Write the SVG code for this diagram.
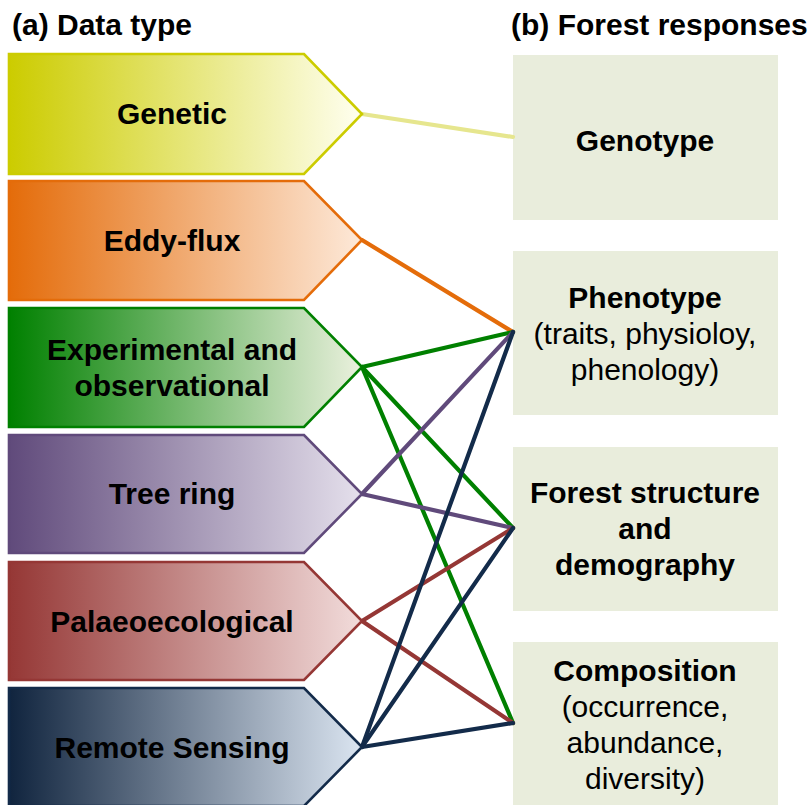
<svg xmlns="http://www.w3.org/2000/svg" width="808" height="805" viewBox="0 0 808 805">
<style>
text{font-family:"Liberation Sans",Arial,sans-serif;font-size:30px;fill:#000;}
.b{font-weight:bold;}
.c{text-anchor:middle;}
.shape{stroke-width:2.6;stroke-linejoin:miter;}
.box{fill:#e9eddc;}
.conn line{stroke-width:4.2;stroke-linecap:round;}
</style>
<defs>
<linearGradient id="gGen" x1="0" x2="1" y1="0" y2="0"><stop offset="0" stop-color="#cccc00"/><stop offset="1" stop-color="#fffff0"/></linearGradient>
<linearGradient id="gEdd" x1="0" x2="1" y1="0" y2="0"><stop offset="0" stop-color="#e46c0a"/><stop offset="1" stop-color="#fde9d9"/></linearGradient>
<linearGradient id="gExp" x1="0" x2="1" y1="0" y2="0"><stop offset="0" stop-color="#008000"/><stop offset="1" stop-color="#ebf1de"/></linearGradient>
<linearGradient id="gTre" x1="0" x2="1" y1="0" y2="0"><stop offset="0" stop-color="#604a7b"/><stop offset="1" stop-color="#e5e0ec"/></linearGradient>
<linearGradient id="gPal" x1="0" x2="1" y1="0" y2="0"><stop offset="0" stop-color="#953735"/><stop offset="1" stop-color="#f2dcdb"/></linearGradient>
<linearGradient id="gRem" x1="0" x2="1" y1="0" y2="0"><stop offset="0" stop-color="#10243e"/><stop offset="1" stop-color="#dbe5f1"/></linearGradient>
</defs>
<rect width="808" height="805" fill="#fff"/>
<text class="b" x="12" y="35">(a) Data type</text>
<text class="b" x="511" y="35">(b) Forest responses</text>

<g id="genotype"><rect class="box" x="513" y="55" width="265" height="165"/><text class="b c" x="645" y="151">Genotype</text></g>
<g id="phenotype"><rect class="box" x="513" y="251" width="265" height="164"/><text class="b c" x="645" y="308">Phenotype</text><text class="c" x="645" y="344">(traits, physioloy,</text><text class="c" x="645" y="380">phenology)</text></g>
<g id="structure"><rect class="box" x="513" y="447" width="265" height="164"/><text class="b c" x="645" y="503">Forest structure</text><text class="b c" x="645" y="539">and</text><text class="b c" x="645" y="575">demography</text></g>
<g id="composition"><rect class="box" x="513" y="642" width="265" height="165"/><text class="b c" x="645" y="681">Composition</text><text class="c" x="645" y="717">(occurrence,</text><text class="c" x="645" y="753">abundance,</text><text class="c" x="645" y="789">diversity)</text></g>

<g id="connectors" class="conn">
<line x1="362" y1="114" x2="513" y2="137" stroke="#e6e68e"/>
<line x1="362" y1="240" x2="513" y2="332" stroke="#e46c0a"/>
<line x1="362" y1="367" x2="513" y2="332" stroke="#008000"/>
<line x1="362" y1="367" x2="513" y2="528" stroke="#008000"/>
<line x1="362" y1="367" x2="513" y2="723" stroke="#008000"/>
<line x1="362" y1="494" x2="513" y2="332" stroke="#604a7b"/>
<line x1="362" y1="494" x2="513" y2="528" stroke="#604a7b"/>
<line x1="362" y1="621" x2="513" y2="528" stroke="#953735"/>
<line x1="362" y1="621" x2="513" y2="723" stroke="#953735"/>
<line x1="362" y1="747" x2="513" y2="332" stroke="#132b4a"/>
<line x1="362" y1="747" x2="513" y2="528" stroke="#132b4a"/>
<line x1="362" y1="747" x2="513" y2="723" stroke="#132b4a"/>
</g>

<g id="genetic"><polygon class="shape" points="9,54 304,54 362,114 304,174 9,174" fill="url(#gGen)" stroke="#cccc00"/><text class="b c" x="172" y="124">Genetic</text></g>
<g id="eddyflux"><polygon class="shape" points="9,181 304,181 362,240 304,300 9,300" fill="url(#gEdd)" stroke="#e46c0a"/><text class="b c" x="172" y="251">Eddy-flux</text></g>
<g id="experimental"><polygon class="shape" points="9,308 304,308 362,367 304,427 9,427" fill="url(#gExp)" stroke="#008000"/><text class="b c" x="172" y="360">Experimental and</text><text class="b c" x="172" y="396">observational</text></g>
<g id="treering"><polygon class="shape" points="9,435 304,435 362,494 304,553 9,553" fill="url(#gTre)" stroke="#604a7b"/><text class="b c" x="172" y="504">Tree ring</text></g>
<g id="palaeo"><polygon class="shape" points="9,562 304,562 362,621 304,680 9,680" fill="url(#gPal)" stroke="#953735"/><text class="b c" x="172" y="632">Palaeoecological</text></g>
<g id="remote"><polygon class="shape" points="9,688 304,688 362,747 304,806 9,806" fill="url(#gRem)" stroke="#132b4a"/><text class="b c" x="172" y="758">Remote Sensing</text></g>
</svg>
